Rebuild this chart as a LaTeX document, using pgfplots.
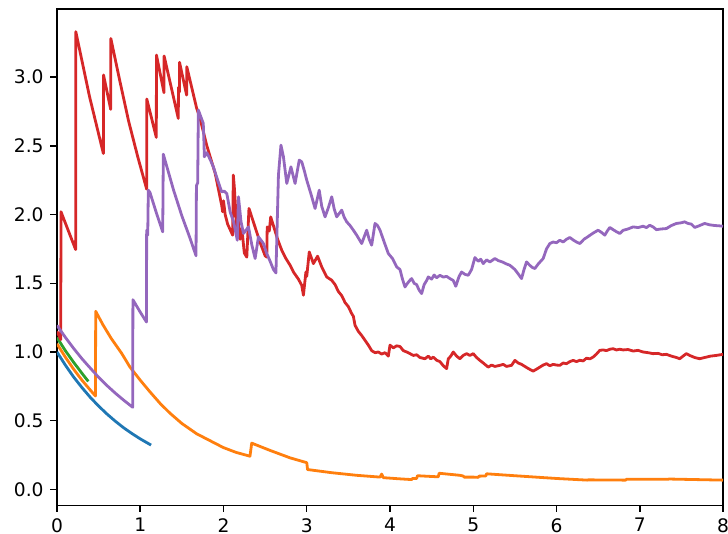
\documentclass[border=0pt]{standalone}
\usepackage{fontspec}
\setmainfont{DejaVu Sans}
\usepackage{pgfplots}
\pgfplotsset{compat=1.18}
\definecolor{c0}{HTML}{1F77B4}
\definecolor{c1}{HTML}{FF7F0E}
\definecolor{c2}{HTML}{2CA02C}
\definecolor{c3}{HTML}{D62728}
\definecolor{c4}{HTML}{9467BD}
\begin{document}
\begin{tikzpicture}
\useasboundingbox (-30.56pt,-15.01pt) rectangle (359.8pt,270.94pt);
\begin{axis}[
  scale only axis, width=357.12pt, height=266.11pt,
  at={(0,0)}, anchor=south west,
  xmin=0, xmax=8, ymin=-0.115, ymax=3.495,
  xtick={0,1,2,3,4,5,6,7,8},
  ytick={0,0.5,1,1.5,2,2.5,3},
  /pgf/number format/assume math mode=true,
  ticklabel style={font=\fontsize{10}{12}\selectfont, inner sep=0pt},
  xticklabel style={yshift=-3.3pt},
  yticklabel style={xshift=-3.5pt, /pgf/number format/.cd, fixed, fixed zerofill, precision=1},
  tick align=outside, major tick length=3.5pt,
  tick style={line width=0.8pt, black},
  xtick pos=bottom, ytick pos=left,
  axis line style={line width=0.8pt},
  every axis plot/.append style={line width=1.5pt, line join=round, mark=none},
]
\addplot[c0] coordinates {(0,1.0)(0.1,0.905)(0.2,0.818)(0.3,0.741)(0.4,0.670)(0.5,0.607)(0.6,0.549)(0.7,0.497)(0.8,0.449)(0.9,0.407)(1.0,0.368)(1.13,0.323)};
\addplot[c1] coordinates {(0,1.06)(0.1,0.963)(0.2,0.875)(0.3,0.795)(0.4,0.723)(0.462,0.68)(0.465,1.296)(0.55,1.2)(0.65,1.1)(0.777,0.99)(0.877,0.89)(1.0,0.795)(1.117,0.71)(1.24,0.625)(1.357,0.555)(1.5,0.48)(1.678,0.405)(1.838,0.355)(1.998,0.305)(2.15,0.27)(2.318,0.242)(2.339,0.337)(2.56,0.284)(2.8,0.23)(3.0,0.195)(3.01,0.145)(3.3,0.122)(3.6,0.103)(3.88,0.090)(3.90,0.112)(3.92,0.086)(4.1,0.078)(4.26,0.072)(4.27,0.08)(4.32,0.08)(4.33,0.1)(4.58,0.092)(4.59,0.118)(4.84,0.103)(4.88,0.098)(4.89,0.09)(5.0,0.09)(5.06,0.088)(5.07,0.097)(5.15,0.098)(5.16,0.114)(5.5,0.1)(6.0,0.08)(6.37,0.068)(6.38,0.07)(6.83,0.068)(6.84,0.074)(7.34,0.074)(7.35,0.076)(8.0,0.068)};
\addplot[c2] coordinates {(0,1.105)(0.1,1.01)(0.2,0.925)(0.3,0.845)(0.376,0.786)};
\addplot[c3] coordinates {(0,1.15)(0.045,1.09)(0.048,2.02)(0.224,1.745)(0.226,3.33)(0.39,2.86)(0.557,2.444)(0.559,3.015)(0.645,2.765)(0.647,3.28)(0.75,2.985)(0.86,2.68)(0.97,2.42)(1.077,2.185)(1.079,2.84)(1.193,2.561)(1.195,3.16)(1.285,2.886)(1.287,3.153)(1.457,2.699)(1.459,2.925)(1.47,2.89)(1.472,3.107)(1.557,2.869)(1.559,3.075)(1.678,2.772)(1.718,2.70)(1.8,2.5)(1.9,2.3)(1.978,2.068)(1.99,2.02)(2.0,2.1)(2.02,2.0)(2.05,1.93)(2.11,1.85)(2.118,2.287)(2.13,2.2)(2.16,1.9)(2.17,2.0)(2.2,1.82)(2.22,1.9)(2.25,1.72)(2.28,1.69)(2.306,2.044)(2.4,1.87)(2.45,1.78)(2.5,1.70)(2.52,1.69)(2.525,1.91)(2.55,1.88)(2.567,1.983)(2.65,1.82)(2.7,1.74)(2.75,1.68)(2.8,1.631)(2.84,1.582)(2.9,1.53)(2.94,1.485)(2.96,1.413)(2.99,1.582)(3.0,1.55)(3.03,1.728)(3.08,1.643)(3.13,1.697)(3.18,1.619)(3.24,1.546)(3.30,1.522)(3.34,1.49)(3.38,1.44)(3.42,1.41)(3.46,1.36)(3.50,1.33)(3.54,1.279)(3.56,1.26)(3.58,1.194)(3.62,1.15)(3.66,1.12)(3.70,1.085)(3.74,1.05)(3.78,1.01)(3.82,0.995)(3.86,1.0)(3.9,0.985)(3.94,0.995)(3.98,0.97)(4.0,1.05)(4.04,1.03)(4.08,1.045)(4.12,1.04)(4.16,1.01)(4.20,1.0)(4.24,0.988)(4.28,0.975)(4.32,0.98)(4.36,0.96)(4.42,0.951)(4.46,0.97)(4.49,0.95)(4.52,0.963)(4.56,0.94)(4.60,0.93)(4.64,0.90)(4.68,0.879)(4.70,0.95)(4.73,0.97)(4.76,1.0)(4.80,0.97)(4.84,0.951)(4.88,0.975)(4.92,0.988)(4.96,0.975)(5.0,0.988)(5.04,0.96)(5.08,0.939)(5.12,0.92)(5.15,0.905)(5.18,0.89)(5.22,0.905)(5.26,0.895)(5.32,0.903)(5.36,0.91)(5.40,0.895)(5.46,0.903)(5.50,0.939)(5.54,0.92)(5.58,0.91)(5.62,0.895)(5.66,0.88)(5.72,0.861)(5.76,0.875)(5.80,0.89)(5.84,0.905)(5.88,0.915)(5.92,0.9)(5.96,0.91)(6.0,0.905)(6.04,0.903)(6.08,0.92)(6.12,0.915)(6.16,0.93)(6.20,0.939)(6.24,0.93)(6.28,0.94)(6.32,0.935)(6.36,0.955)(6.40,0.95)(6.44,0.963)(6.48,0.985)(6.52,1.012)(6.56,1.015)(6.60,1.01)(6.64,1.02)(6.68,1.024)(6.72,1.015)(6.76,1.02)(6.80,1.015)(6.86,1.018)(6.92,1.007)(6.98,1.012)(7.04,1.0)(7.10,0.995)(7.16,0.988)(7.22,0.99)(7.27,0.98)(7.32,0.983)(7.38,0.97)(7.44,0.96)(7.48,0.951)(7.52,0.97)(7.56,0.988)(7.60,0.975)(7.66,0.96)(7.72,0.951)(7.78,0.96)(7.85,0.97)(7.92,0.975)(8.0,0.983)};
\addplot[c4] coordinates {(0,1.194)(0.1,1.107)(0.2,1.026)(0.3,0.951)(0.376,0.899)(0.5,0.816)(0.6,0.756)(0.7,0.701)(0.8,0.65)(0.909,0.598)(0.912,1.38)(1.0,1.29)(1.075,1.218)(1.077,1.886)(1.09,1.85)(1.097,2.177)(1.117,2.16)(1.2,2.0)(1.27,1.874)(1.277,2.439)(1.4,2.178)(1.5,1.99)(1.6,1.824)(1.67,1.70)(1.675,2.21)(1.69,2.23)(1.698,2.76)(1.757,2.663)(1.765,2.53)(1.77,2.42)(1.8,2.45)(1.84,2.40)(1.878,2.347)(1.93,2.25)(1.978,2.165)(2.01,2.17)(2.04,2.152)(2.08,2.019)(2.12,1.95)(2.166,1.813)(2.18,2.129)(2.21,1.95)(2.24,1.862)(2.30,1.91)(2.34,1.78)(2.38,1.68)(2.42,1.838)(2.48,1.789)(2.52,1.716)(2.56,1.66)(2.6,1.6)(2.63,1.575)(2.66,2.287)(2.69,2.505)(2.72,2.42)(2.76,2.226)(2.81,2.347)(2.86,2.226)(2.91,2.396)(2.94,2.383)(2.97,2.32)(3.0,2.25)(3.05,2.15)(3.10,2.044)(3.15,2.177)(3.18,2.06)(3.22,1.983)(3.26,2.05)(3.30,2.129)(3.33,2.04)(3.36,1.983)(3.42,2.032)(3.45,1.98)(3.48,1.947)(3.52,1.92)(3.56,1.886)(3.60,1.85)(3.66,1.789)(3.72,1.886)(3.75,1.82)(3.78,1.777)(3.82,1.935)(3.85,1.92)(3.88,1.886)(3.93,1.80)(3.98,1.716)(4.03,1.68)(4.08,1.619)(4.12,1.60)(4.15,1.53)(4.18,1.473)(4.21,1.50)(4.24,1.522)(4.26,1.534)(4.29,1.50)(4.32,1.49)(4.35,1.45)(4.38,1.425)(4.41,1.49)(4.44,1.52)(4.46,1.546)(4.50,1.53)(4.53,1.56)(4.56,1.54)(4.60,1.558)(4.64,1.545)(4.68,1.55)(4.72,1.534)(4.76,1.52)(4.79,1.478)(4.83,1.55)(4.86,1.582)(4.90,1.565)(4.94,1.558)(4.98,1.60)(5.02,1.687)(5.06,1.66)(5.09,1.675)(5.12,1.643)(5.16,1.67)(5.20,1.655)(5.26,1.68)(5.30,1.665)(5.35,1.655)(5.40,1.64)(5.44,1.631)(5.50,1.60)(5.55,1.56)(5.58,1.534)(5.61,1.60)(5.64,1.655)(5.68,1.63)(5.71,1.615)(5.74,1.607)(5.78,1.64)(5.81,1.66)(5.84,1.68)(5.88,1.75)(5.92,1.789)(5.96,1.80)(6.0,1.795)(6.04,1.813)(6.08,1.80)(6.12,1.82)(6.16,1.833)(6.20,1.815)(6.24,1.80)(6.28,1.789)(6.33,1.82)(6.38,1.84)(6.44,1.865)(6.50,1.886)(6.54,1.87)(6.58,1.85)(6.61,1.88)(6.64,1.906)(6.68,1.89)(6.72,1.875)(6.76,1.862)(6.80,1.885)(6.86,1.895)(6.92,1.91)(6.98,1.905)(7.04,1.915)(7.08,1.905)(7.12,1.922)(7.16,1.91)(7.20,1.89)(7.26,1.895)(7.32,1.898)(7.38,1.92)(7.44,1.935)(7.50,1.94)(7.54,1.947)(7.58,1.935)(7.62,1.93)(7.66,1.906)(7.70,1.915)(7.74,1.925)(7.78,1.935)(7.84,1.925)(7.90,1.92)(7.95,1.918)(8.0,1.915)};
\end{axis}
\end{tikzpicture}
\end{document}
